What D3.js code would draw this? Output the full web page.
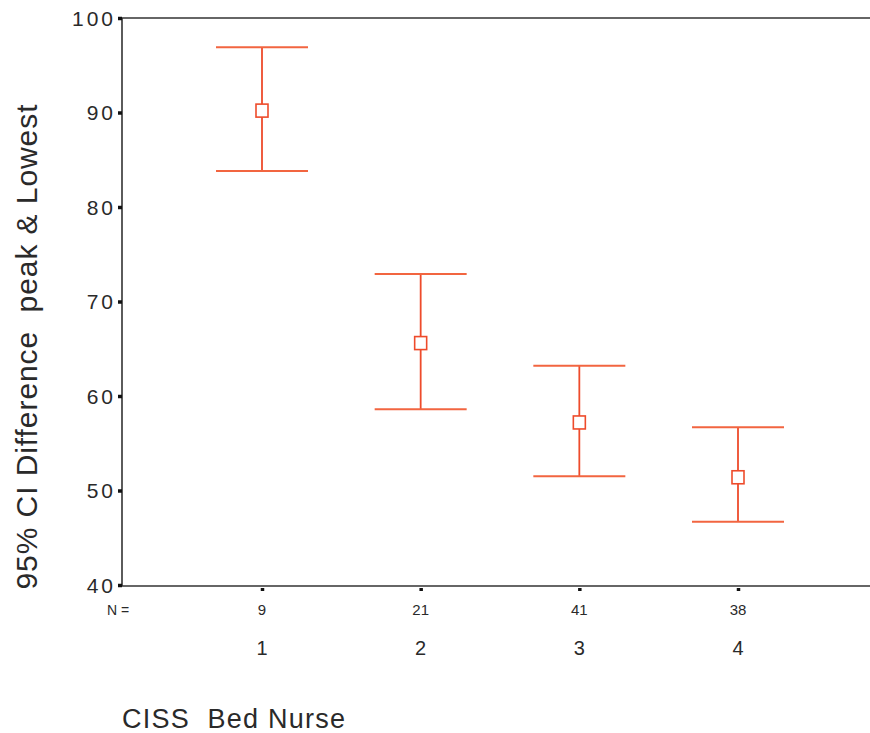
<!DOCTYPE html>
<html><head><meta charset="utf-8">
<script src="https://cdn.jsdelivr.net/npm/d3@7"></script>
<style>body{margin:0;background:#fff;}svg{display:block;}text{white-space:pre;}</style>
</head><body>
<script>
const categories = ["1", "2", "3", "4"];
const counts = ["9", "21", "41", "38"];
const means = [90.2, 65.6, 57.2, 51.4];
const lowers = [83.8, 58.6, 51.5, 46.7];
const uppers = [96.9, 72.9, 63.2, 56.7];
const yTicks = [40, 50, 60, 70, 80, 90, 100];

(function () {
const W = 870, H = 733;
const svg = d3.select("body").append("svg").attr("width", W).attr("height", H);
const font = "Liberation Sans, Arial, sans-serif";
const ink = "#2a2a2a";
const red = "#ee4b2b";

const pLeft = 122, pTop = 18, pBottom = 585, pRight = 870;
const y = d3.scaleLinear().domain([40, 100]).range([pBottom, pTop]);
const x = d3.scaleLinear().domain([0, 3]).range([262, 738]);

// frame
svg.append("line").attr("x1", pLeft).attr("x2", pRight).attr("y1", pTop).attr("y2", pTop)
  .attr("stroke", "#333").attr("stroke-width", 1.6);
svg.append("line").attr("x1", pLeft).attr("x2", pLeft).attr("y1", pTop).attr("y2", pBottom + 1)
  .attr("stroke", "#333").attr("stroke-width", 1.6);
svg.append("line").attr("x1", pLeft).attr("x2", pRight).attr("y1", pBottom + 1).attr("y2", pBottom + 1)
  .attr("stroke", "#333").attr("stroke-width", 1.6);

// y axis
const yAxis = d3.axisLeft(y).tickValues(yTicks).tickSize(4).tickPadding(2);
const gy = svg.append("g").attr("transform", `translate(${pLeft},0)`).call(yAxis);
gy.select(".domain").remove();
gy.selectAll(".tick line").attr("stroke", "#111").attr("stroke-width", 3.5);
gy.selectAll(".tick text").attr("font-family", font).attr("font-size", 21).attr("fill", ink)
  .attr("letter-spacing", "3px").attr("dy", "0.35em");

// x ticks
const gx = svg.append("g").attr("transform", `translate(0,${pBottom + 1})`)
  .call(d3.axisBottom(x).tickValues([0, 1, 2, 3]).tickSize(5).tickFormat(""));
gx.select(".domain").remove();
gx.selectAll(".tick line").attr("stroke", "#111").attr("stroke-width", 3.5).attr("y1", 2);

// N labels
svg.append("text").attr("x", 107).attr("y", 615).text("N =")
  .attr("font-family", font).attr("font-size", 14).attr("fill", ink);
svg.selectAll("text.n").data(counts).join("text").attr("class", "n")
  .attr("x", (d, i) => x(i)).attr("y", 615).attr("text-anchor", "middle")
  .attr("font-family", font).attr("font-size", 15).attr("fill", ink).text(d => d);

// category labels
svg.selectAll("text.cat").data(categories).join("text").attr("class", "cat")
  .attr("x", (d, i) => x(i)).attr("y", 655).attr("text-anchor", "middle")
  .attr("font-family", font).attr("font-size", 20).attr("fill", ink).text(d => d);

// axis titles
svg.append("text").attr("x", 122).attr("y", 728).text("CISS  Bed Nurse")
  .attr("textLength", 223).attr("lengthAdjust", "spacing")
  .attr("font-family", font).attr("font-size", 27).attr("fill", ink);
svg.append("text").attr("transform", "translate(37,347) rotate(-90)")
  .attr("text-anchor", "middle").text("95% CI Difference  peak & Lowest")
  .attr("textLength", 485).attr("lengthAdjust", "spacing")
  .attr("font-family", font).attr("font-size", 30).attr("fill", ink);

// error bars
const g = svg.append("g");
const capHalf = 46;
categories.forEach((c, i) => {
  const cx = x(i);
  g.append("line").attr("x1", cx).attr("x2", cx).attr("y1", y(uppers[i])).attr("y2", y(lowers[i]))
    .attr("stroke", red).attr("stroke-width", 1.8);
  g.append("line").attr("x1", cx - capHalf).attr("x2", cx + capHalf).attr("y1", y(uppers[i])).attr("y2", y(uppers[i]))
    .attr("stroke", "#f26540").attr("stroke-width", 2);
  g.append("line").attr("x1", cx - capHalf).attr("x2", cx + capHalf).attr("y1", y(lowers[i])).attr("y2", y(lowers[i]))
    .attr("stroke", "#f26540").attr("stroke-width", 2);
  g.append("rect").attr("x", cx - 6).attr("y", y(means[i]) - 6.5).attr("width", 12).attr("height", 13)
    .attr("fill", "#fff").attr("stroke", red).attr("stroke-width", 1.6);
});
})();
</script>
</body></html>
